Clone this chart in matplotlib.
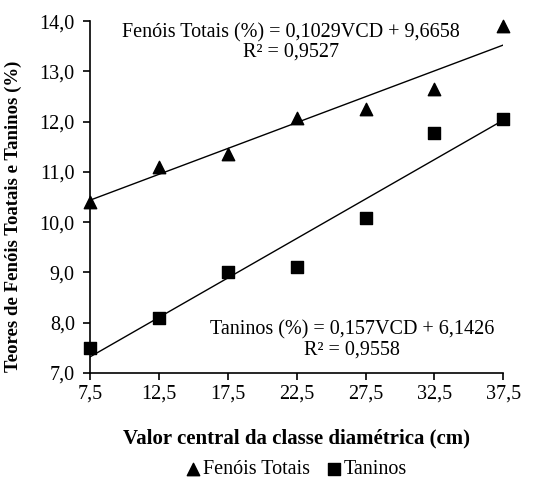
import matplotlib.pyplot as plt
import numpy as np

# class midpoints (cm)
vcd = [7.5, 12.5, 17.5, 22.5, 27.5, 32.5, 37.5]
fenois = [10.4, 11.1, 11.35, 12.08, 12.25, 12.65, 13.9]
taninos = [7.5, 8.1, 9.0, 9.1, 10.08, 11.78, 12.05]

# regression coefficients shown on the chart
fen_coef = [0.1029, 9.6658]
tan_coef = [0.157, 6.1426]

plt.rcParams['font.family'] = ['Liberation Serif', 'DejaVu Serif']

fig = plt.figure(figsize=(5.36, 4.8), dpi=100)
ax = fig.add_axes([0.168, 0.223, 0.771, 0.733])

x = np.array(vcd)
ax.plot(x, np.polyval(fen_coef, x), color='black', lw=1)
ax.plot(x, np.polyval(tan_coef, x), color='black', lw=1)
ax.scatter(vcd, fenois, marker='^', s=80, color='black', clip_on=False, zorder=3, label='Fenóis Totais')
ax.scatter(vcd, taninos, marker='s', s=70, color='black', clip_on=False, zorder=3, label='Taninos')

ax.set_xlim(7.5, 37.5)
ax.set_ylim(7.0, 14.0)
ax.set_xticks(vcd)
ax.set_xticklabels([f"{v:.1f}".replace('.', ',') for v in vcd])
yt = np.arange(7.0, 14.01, 1.0)
ax.set_yticks(yt)
ax.set_yticklabels([f"{v:.1f}".replace('.', ',') for v in yt])
ax.tick_params(direction='out', labelsize=14.5, length=5, width=1.2, pad=6)
ax.tick_params(axis='x', pad=3)

for s in ['top', 'right']:
    ax.spines[s].set_visible(False)
for s in ['left', 'bottom']:
    ax.spines[s].set_linewidth(1.2)

ax.set_xlabel('Valor central da classe diamétrica (cm)', fontsize=15, fontweight='bold', labelpad=18)
ax.set_ylabel('Teores de Fenóis Toatais e Taninos (%)', fontsize=13.5, fontweight='bold')
ax.yaxis.set_label_coords(-0.165, 0.446)

ax.text(0.487, 0.995, 'Fenóis Totais (%) = 0,1029VCD + 9,6658\nR² = 0,9527',
        transform=ax.transAxes, ha='center', va='top', fontsize=14.5, linespacing=1.05)
ax.text(0.634, 0.15, 'Taninos (%) = 0,157VCD + 6,1426\nR² = 0,9558',
        transform=ax.transAxes, ha='center', va='top', fontsize=14.5, linespacing=1.05)

fig.legend(loc='center', bbox_to_anchor=(0.55, 0.022), ncol=2, frameon=False, fontsize=14.5,
           handletextpad=0.0, columnspacing=0.7, handlelength=1.0, borderpad=0)

fig.savefig('out.png', dpi=100)
